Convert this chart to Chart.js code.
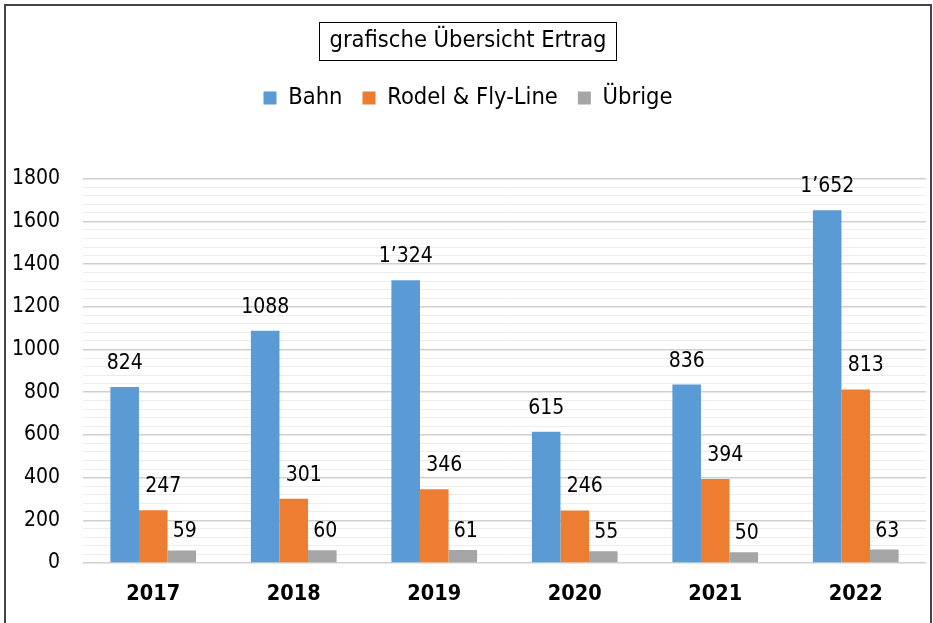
<!DOCTYPE html>
<html>
<head>
<meta charset="utf-8">
<script src="https://cdn.jsdelivr.net/npm/chart.js@4"></script>
<style>
  body { margin: 0; background: #fff; }
</style>
</head>
<body>
<canvas id="myChart" width="933" height="623"></canvas>
<script>
var years = ['2017', '2018', '2019', '2020', '2021', '2022'];
var bahn = [824, 1088, 1324, 615, 836, 1652];
var rodel = [247, 301, 346, 246, 394, 813];
var uebrige = [59, 60, 61, 55, 50, 63];
// labels as printed in the original (mixed thousand separators)
var bahnLabels = ['824', '1088', '1’324', '615', '836', '1’652'];
var rodelLabels = ['247', '301', '346', '246', '394', '813'];
var uebrigeLabels = ['59', '60', '61', '55', '50', '63'];

var fontStack = '"DejaVu Sans Condensed", "Liberation Sans Narrow", Roboto, sans-serif';
Chart.defaults.font.family = fontStack;
Chart.defaults.color = '#000';

var frame = {
    id: 'frame',
    beforeDraw: function(chart) {
        var c = chart.ctx;
        c.save();
        c.fillStyle = '#fff';
        c.fillRect(0, 0, chart.width, chart.height);
        c.restore();
    },
    afterDraw: function(chart) {
        var c = chart.ctx;
        c.save();
        c.strokeStyle = '#444';
        c.lineWidth = 2;
        c.strokeRect(5, 5, 926, 700);
        // box around title
        var t = chart.titleBlock;
        c.font = '23.5px ' + fontStack;
        var w = c.measureText(chart.options.plugins.title.text).width;
        var cx = (t.left + t.right) / 2;
        var cy = t.top + t.options.padding.top + 14;
        c.lineWidth = 1;
        c.strokeStyle = '#000';
        c.strokeRect(Math.round(cx - w / 2 - 10) + 0.5, Math.round(cy - 19) + 0.5, Math.round(w + 20), 38);
        c.restore();
    }
};

var legendGap = {
    id: 'legendGap',
    beforeInit: function(chart) {
        var fit = chart.legend.fit;
        chart.legend.fit = function() {
            fit.bind(chart.legend)();
            this.height += 59;
        };
    }
};

var valueLabels = {
    id: 'valueLabels',
    afterDatasetsDraw: function(chart) {
        var c = chart.ctx;
        var all = [bahnLabels, rodelLabels, uebrigeLabels];
        var shiftX = [0, 10, 3];
        var gapY = [18, 18, 13];
        c.save();
        c.font = '21px ' + fontStack;
        c.fillStyle = '#000';
        c.textAlign = 'center';
        c.textBaseline = 'alphabetic';
        chart.data.datasets.forEach(function(ds, i) {
            chart.getDatasetMeta(i).data.forEach(function(bar, j) {
                c.fillText(all[i][j], bar.x + shiftX[i], bar.y - gapY[i]);
            });
        });
        c.restore();
    }
};

var ctx = document.getElementById('myChart').getContext('2d');
var myChart = new Chart(ctx, {
    type: 'bar',
    data: {
        labels: years,
        datasets: [
            { label: 'Bahn', data: bahn, backgroundColor: '#5B9BD5' },
            { label: 'Rodel & Fly-Line', data: rodel, backgroundColor: '#ED7D31' },
            { label: 'Übrige', data: uebrige, backgroundColor: '#A5A5A5' }
        ]
    },
    options: {
        responsive: false,
        animation: false,
        devicePixelRatio: 1,
        layout: { padding: { left: 10, right: 7, top: 0, bottom: 0 } },
        datasets: { bar: { barPercentage: 1, categoryPercentage: 0.61 } },
        plugins: {
            tooltip: { enabled: false },
            title: {
                display: true,
                text: 'grafische Übersicht Ertrag',
                font: { size: 23.5, weight: 'normal' },
                color: '#000',
                padding: { top: 27, bottom: 11 }
            },
            legend: {
                labels: {
                    boxWidth: 13,
                    boxHeight: 13,
                    padding: 20,
                    font: { size: 23.5 },
                    color: '#000'
                }
            }
        },
        scales: {
            x: {
                grid: { display: false, drawTicks: false },
                border: { display: false },
                ticks: { padding: 19, font: { size: 21.5, weight: 'bold' }, color: '#000' },
                afterFit: function(scale) { scale.height = 60; }
            },
            y: {
                min: 0,
                max: 1800,
                border: { display: false },
                grid: {
                    drawTicks: false,
                    color: function(c) {
                        return c.tick && c.tick.value % 200 === 0 ? '#d0d0d0' : '#ededed';
                    },
                    lineWidth: function(c) {
                        return c.tick && c.tick.value % 200 === 0 ? 1.5 : 1;
                    }
                },
                ticks: {
                    stepSize: 40,
                    autoSkip: false,
                    padding: 23,
                    font: { size: 21 },
                    color: '#000',
                    callback: function(v) { return v % 200 === 0 ? v : ''; }
                },
                afterFit: function(scale) { scale.width = 73; }
            }
        }
    },
    plugins: [frame, legendGap, valueLabels]
});
</script>
</body>
</html>
